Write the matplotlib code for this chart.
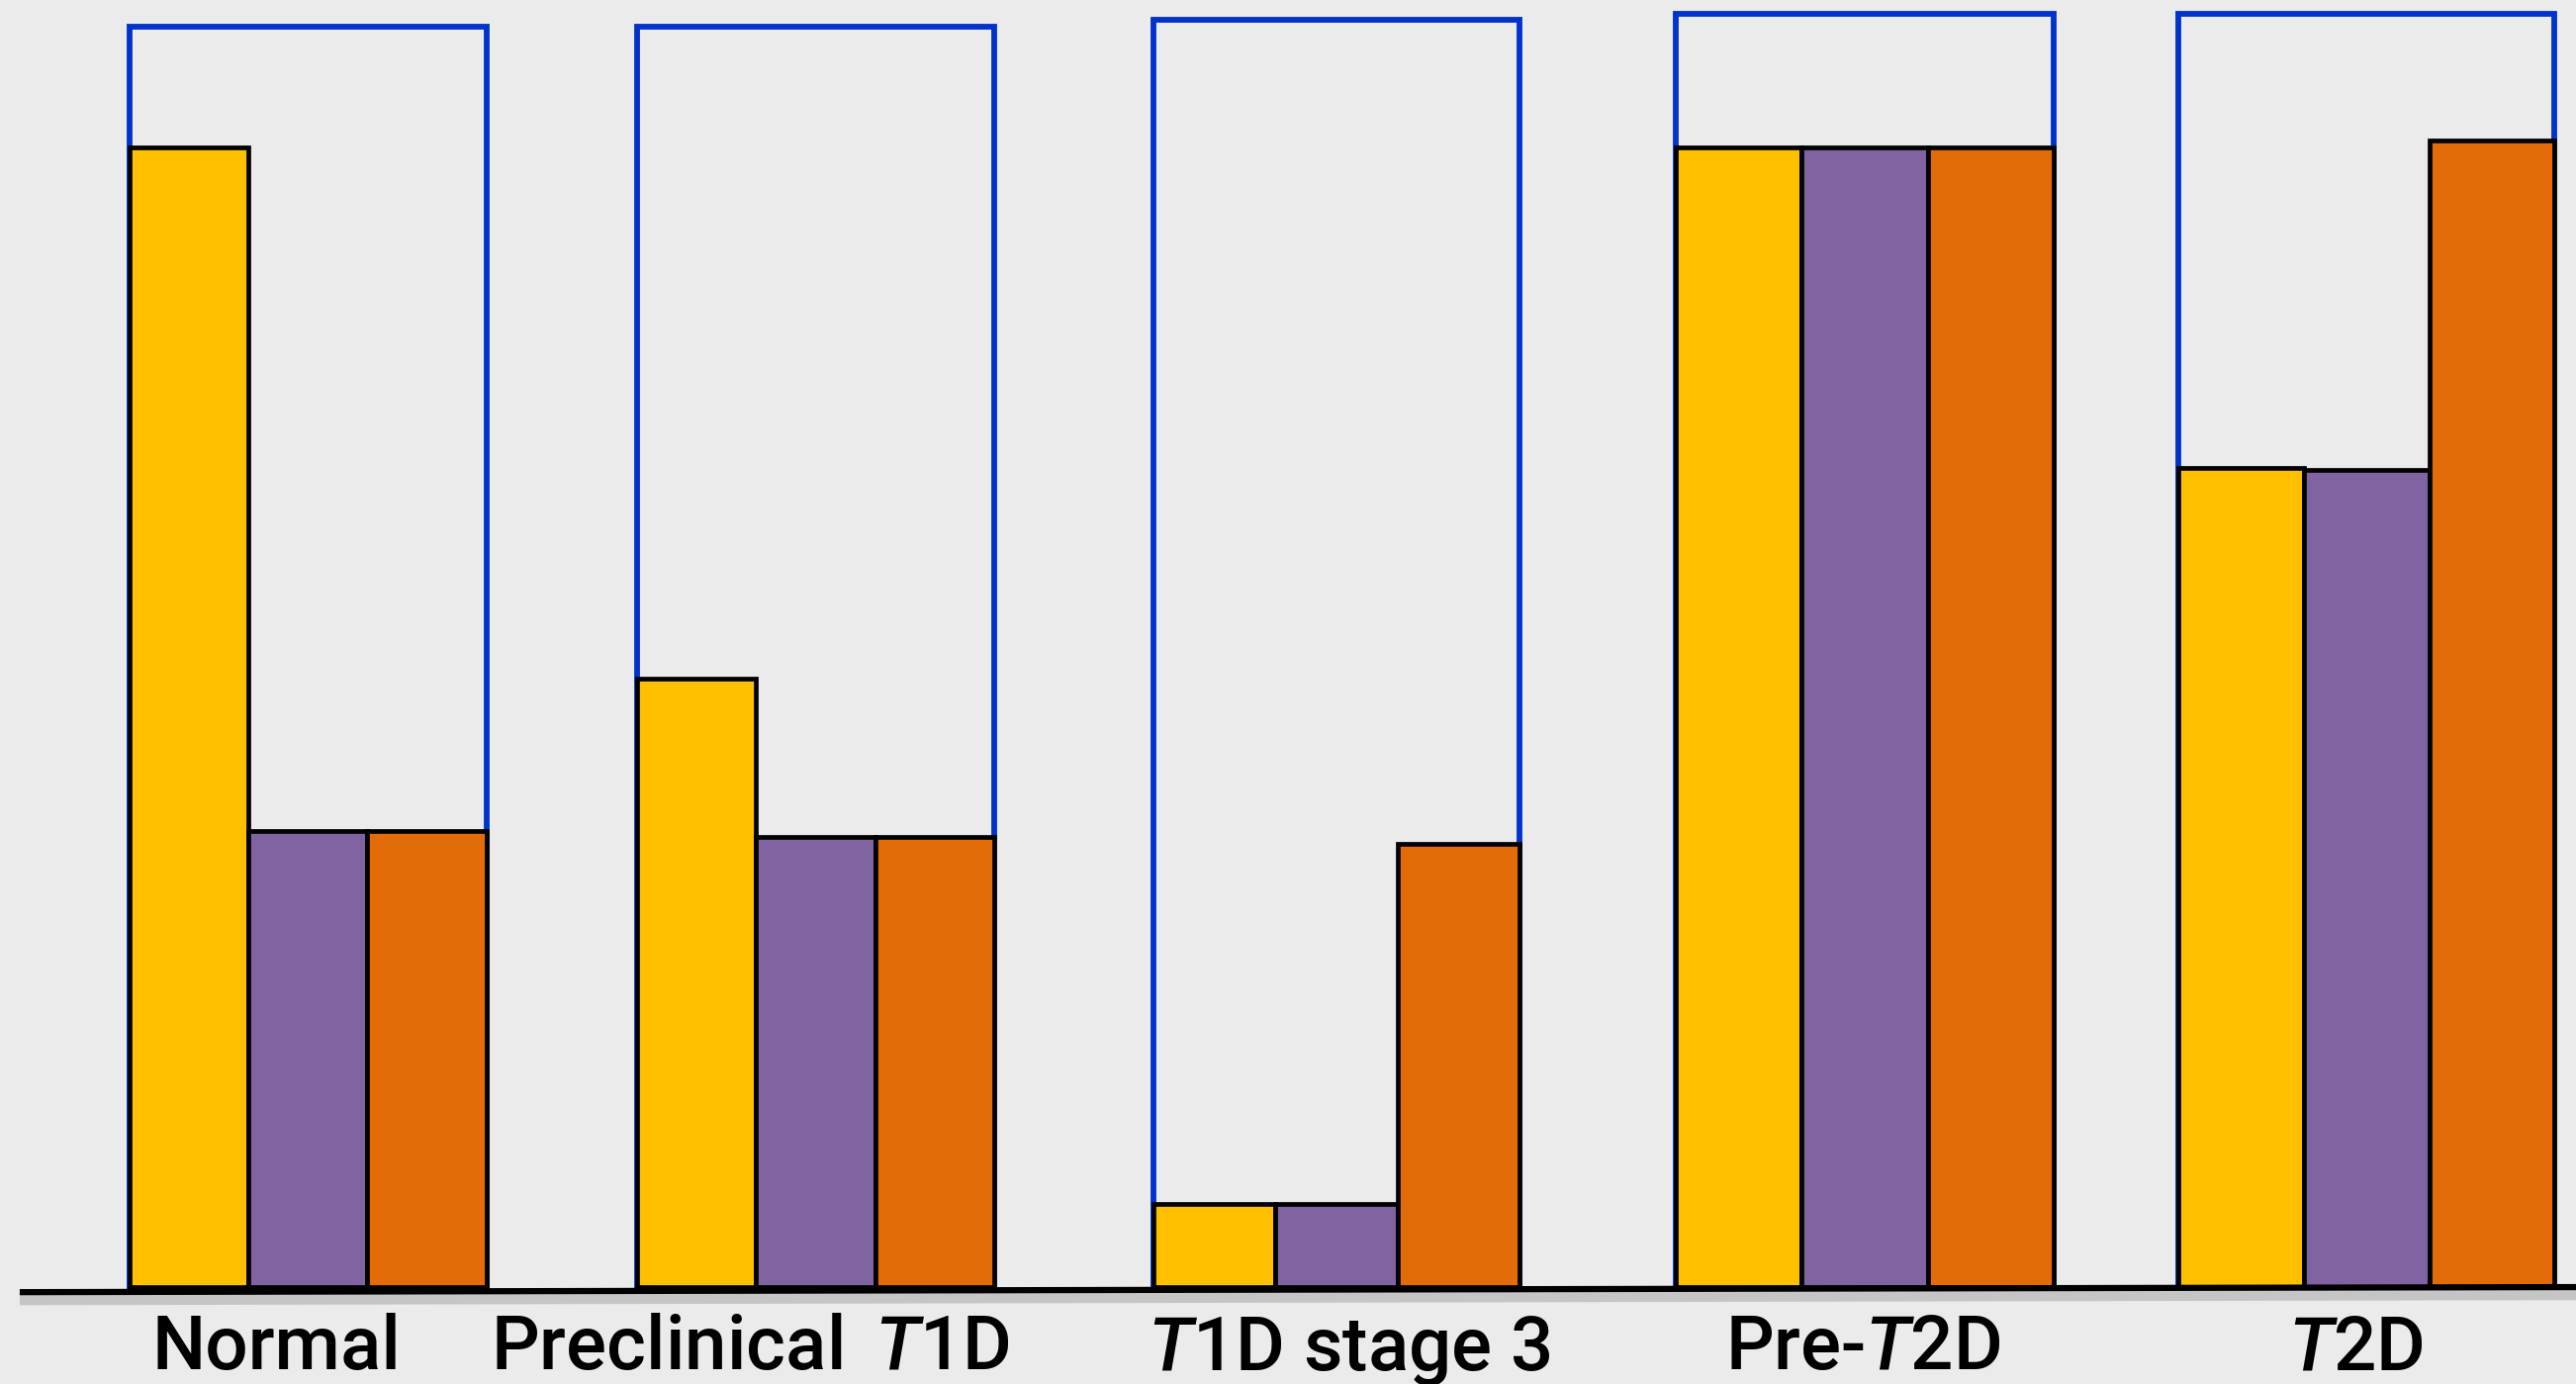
import matplotlib.pyplot as plt
import matplotlib.patheffects as pe

plt.rcParams['font.family'] = ['Roboto', 'DejaVu Sans']
plt.rcParams['mathtext.fontset'] = 'custom'
plt.rcParams['mathtext.rm'] = 'Roboto:medium'
plt.rcParams['mathtext.it'] = 'Roboto:italic:medium'

# data (box = 100)
stages = ['Normal', r'Preclinical $\,T$1D', '$T$1D stage 3', 'Pre-$T$2D', '$T$2D']
yellow_vals = [90, 48, 6.6, 90, 64.7]
purple_vals = [36, 35.5, 6.6, 90, 64.5]
orange_vals = [36, 35.5, 35, 90, 90.5]
box_vals = [99.5, 99.5, 100, 100.5, 100.5]

colors = ['#FFC000', '#8064A2', '#E36C09']

# layout (x in px of the 1568 wide view)
group_left = [79, 388, 702, 1020, 1326]
group_width = [217, 217, 223, 230, 229]
label_x = [168, 457, 821, 1134, 1434]

fig = plt.figure(figsize=(26.04, 13.99), dpi=100, facecolor='#EBEBEB')
ax = fig.add_axes([0, 0, 1, 1])
ax.set_facecolor('#EBEBEB')
ax.set_xlim(0, 1568)
ax.set_ylim(-7.65, 101.6)
ax.axis('off')

# blue outline boxes
ax.bar(group_left, box_vals, width=group_width, align='edge', fill=False,
       edgecolor='#0033CC', linewidth=4.2, zorder=1)

series = [yellow_vals, purple_vals, orange_vals]
for i, vals in enumerate(series):
    w = [gw / 3 for gw in group_width]
    lefts = [gl + i * gw / 3 for gl, gw in zip(group_left, group_width)]
    ax.bar(lefts, vals, width=w, align='edge', color=colors[i],
           edgecolor='black', linewidth=3.4, zorder=2)

# baseline
ax.plot([12, 1568], [-0.4, 0.0], color='black', linewidth=4.5, zorder=3,
        solid_capstyle='butt',
        path_effects=[pe.SimpleLineShadow(offset=(0, -5), shadow_color='gray', alpha=0.35, linewidth=9),
                      pe.Normal()])

for x, s in zip(label_x, stages):
    ax.text(x, -6.5, s, ha='center', va='baseline', fontsize=55,
            fontweight='medium', color='black')

fig.savefig('out.png', dpi=100, facecolor=fig.get_facecolor())
